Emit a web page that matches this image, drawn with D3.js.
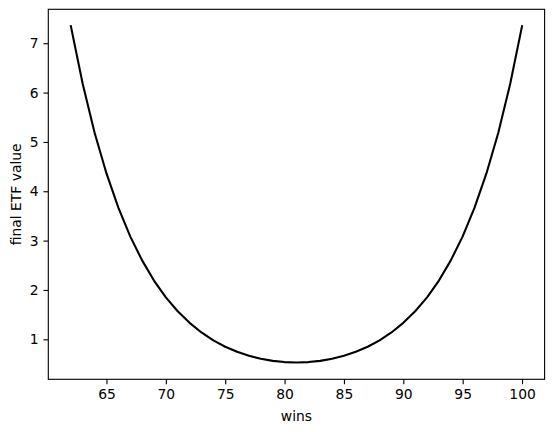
<!DOCTYPE html>
<html>
<head>
<meta charset="utf-8">
<script src="https://cdn.jsdelivr.net/npm/d3@7"></script>
<style>
  html, body { margin: 0; padding: 0; background: #fff; }
  svg { display: block; }
  text { font-family: "DejaVu Sans", sans-serif; fill: #000; }
</style>
</head>
<body>
<svg id="chart" width="554" height="432"></svg>
<script>
// Data
const wins = [62,63,64,65,66,67,68,69,70,71,72,73,74,75,76,77,78,79,80,81,
              82,83,84,85,86,87,88,89,90,91,92,93,94,95,96,97,98,99,100];
const etfValue = [7.347,6.173,5.187,4.361,3.667,3.086,2.599,2.191,1.851,1.568,
                  1.333,1.138,0.979,0.849,0.746,0.665,0.605,0.563,0.538,0.530,
                  0.538,0.563,0.605,0.665,0.746,0.849,0.979,1.138,1.333,1.568,
                  1.851,2.191,2.599,3.086,3.667,4.361,5.187,6.173,7.347];
const xTicks = [65,70,75,80,85,90,95,100];
const yTicks = [1,2,3,4,5,6,7];
const xLabel = "wins";
const yLabel = "final ETF value";

const svg = d3.select("#chart");
const L = 48.3, R = 544.6, T = 9.3, B = 379.3;

function padded(ext) {
  const r = ext[1] - ext[0];
  return [ext[0] - 0.05 * r, ext[1] + 0.05 * r];
}
const x = d3.scaleLinear().domain(padded(d3.extent(wins))).range([L, R]);
const y = d3.scaleLinear().domain(padded(d3.extent(etfValue))).range([B, T]);

const data = wins.map((w, i) => ({w, v: etfValue[i]}));

// line
svg.append("path")
  .datum(data)
  .attr("fill", "none")
  .attr("stroke", "#000")
  .attr("stroke-width", 2.08)
  .attr("stroke-linejoin", "round")
  .attr("stroke-linecap", "square")
  .attr("d", d3.line().x(d => x(d.w)).y(d => y(d.v)));

// axes
const xAxis = d3.axisBottom(x).tickValues(xTicks).tickSize(4.86).tickPadding(4.86).tickFormat(d3.format("d"));
const yAxis = d3.axisLeft(y).tickValues(yTicks).tickSize(4.86).tickPadding(4.86).tickFormat(d3.format("d"));

const gx = svg.append("g").attr("transform", `translate(0,${B})`).call(xAxis);
const gy = svg.append("g").attr("transform", `translate(${L},0)`).call(yAxis);
[gx, gy].forEach(g => {
  g.select(".domain").remove();
  g.selectAll(".tick line").attr("stroke", "#000").attr("stroke-width", 1.11);
  g.selectAll(".tick text").attr("font-size", "13.89px").attr("font-family", "DejaVu Sans, sans-serif").attr("fill", "#000");
});

// frame
svg.append("rect")
  .attr("x", L).attr("y", T).attr("width", R - L).attr("height", B - T)
  .attr("fill", "none").attr("stroke", "#000").attr("stroke-width", 1.11);

// labels
svg.append("text")
  .attr("x", (L + R) / 2).attr("y", 420.5)
  .attr("text-anchor", "middle").attr("font-size", "13.89px")
  .text(xLabel);
svg.append("text")
  .attr("transform", `translate(20.5,${(T + B) / 2}) rotate(-90)`)
  .attr("text-anchor", "middle").attr("font-size", "13.89px")
  .text(yLabel);
</script>
</body>
</html>
